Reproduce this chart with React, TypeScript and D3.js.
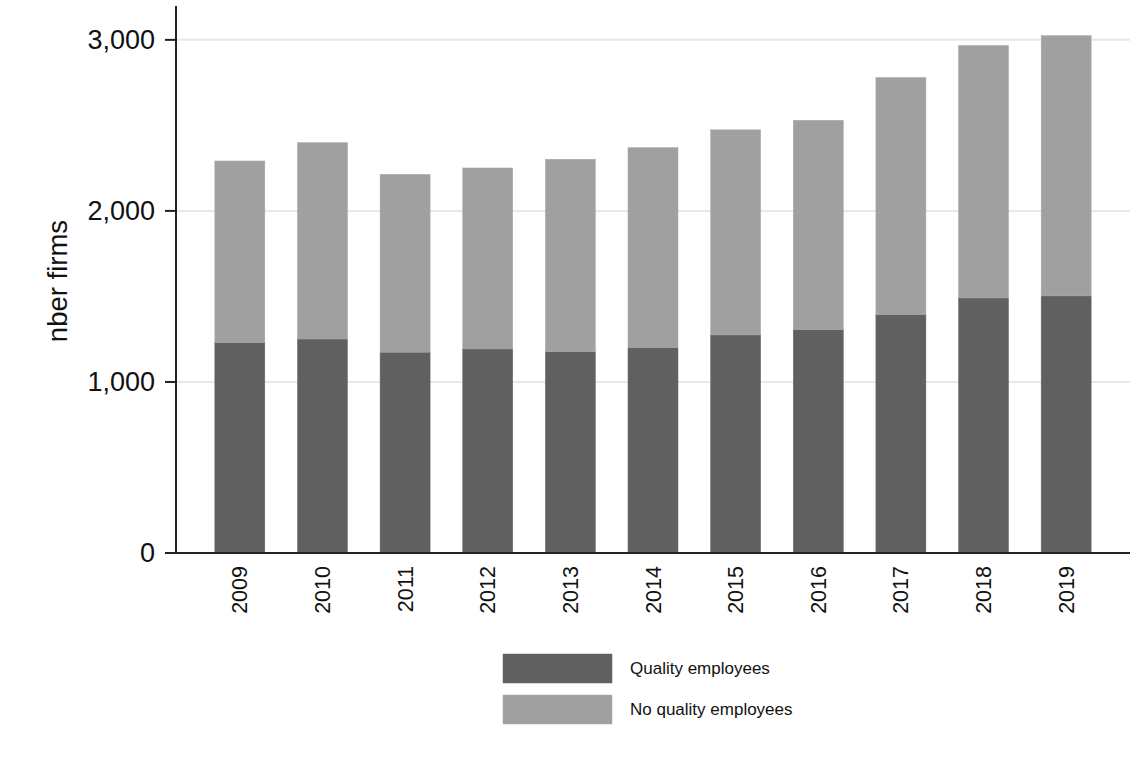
import React from "react";
import * as d3 from "d3";

const years = ["2009","2010","2011","2012","2013","2014","2015","2016","2017","2018","2019"];
const qualityEmployees = [1230, 1251, 1174, 1193, 1177, 1201, 1275, 1306, 1394, 1491, 1503];
const totalFirms = [2292, 2399, 2214, 2251, 2302, 2370, 2474, 2530, 2780, 2967, 3025];
const noQualityEmployees = totalFirms.map((t, i) => t - qualityEmployees[i]);
const yTicks = [0, 1000, 2000, 3000];
const seriesNames = ["Quality employees", "No quality employees"];

const W = 1145, H = 770;
const left = 176, right = 1130, top = 6, bottom = 553;
const DARK = "#606060", LIGHT = "#a0a0a0";

export default function App() {
  const x = d3.scaleBand<string>().domain(years).range([left, right]).paddingInner(0.395).paddingOuter(0.47);
  const y = d3.scaleLinear().domain([0, 3198]).range([bottom, top]);
  const fmt = d3.format(",");
  const font = "'Liberation Sans', Arial, sans-serif";
  return (
    <svg width={W} height={H} style={{ position: "absolute", left: 0, top: 0, background: "#fff" }} fontFamily={font}>
      {yTicks.filter(t => t > 0).map(t => (
        <line key={"g" + t} x1={left} x2={right} y1={y(t)} y2={y(t)} stroke="#e8e8e8" strokeWidth={2} />
      ))}
      {years.map((yr, i) => (
        <g key={yr}>
          <rect x={x(yr)} width={x.bandwidth()} y={y(qualityEmployees[i])} height={y(0) - y(qualityEmployees[i])} fill={DARK} stroke="#666" strokeWidth={0.5} />
          <rect x={x(yr)} width={x.bandwidth()} y={y(qualityEmployees[i] + noQualityEmployees[i])} height={y(qualityEmployees[i]) - y(qualityEmployees[i] + noQualityEmployees[i])} fill={LIGHT} stroke="#a8a8a8" strokeWidth={0.5} />
          <text transform={`translate(${x(yr)! + x.bandwidth() / 2 + 7.5},566) rotate(-90)`} textAnchor="end" fontSize={21.5} fill="#111">{yr}</text>
        </g>
      ))}
      <line x1={left} x2={left} y1={top} y2={bottom + 1} stroke="#222" strokeWidth={2} />
      <line x1={left - 1} x2={right} y1={bottom} y2={bottom} stroke="#222" strokeWidth={2} />
      {yTicks.map(t => (
        <g key={"t" + t}>
          <line x1={left - 11} x2={left} y1={y(t)} y2={y(t)} stroke="#222" strokeWidth={2} />
          <text x={left - 21} y={y(t)} dy="0.35em" textAnchor="end" fontSize={27} fill="#111">{fmt(t)}</text>
        </g>
      ))}
      <text transform="translate(67,281) rotate(-90)" textAnchor="middle" fontSize={27.5} fill="#111">nber firms</text>
      {seriesNames.map((name, i) => (
        <g key={name}>
          <rect x={503} y={654 + i * 41} width={109} height={29} fill={i === 0 ? DARK : LIGHT} stroke={i === 0 ? "#666" : "#a8a8a8"} strokeWidth={0.5} />
          <text x={630} y={668.5 + i * 41} dy="0.35em" fontSize={17} fill="#111">{name}</text>
        </g>
      ))}
    </svg>
  );
}
